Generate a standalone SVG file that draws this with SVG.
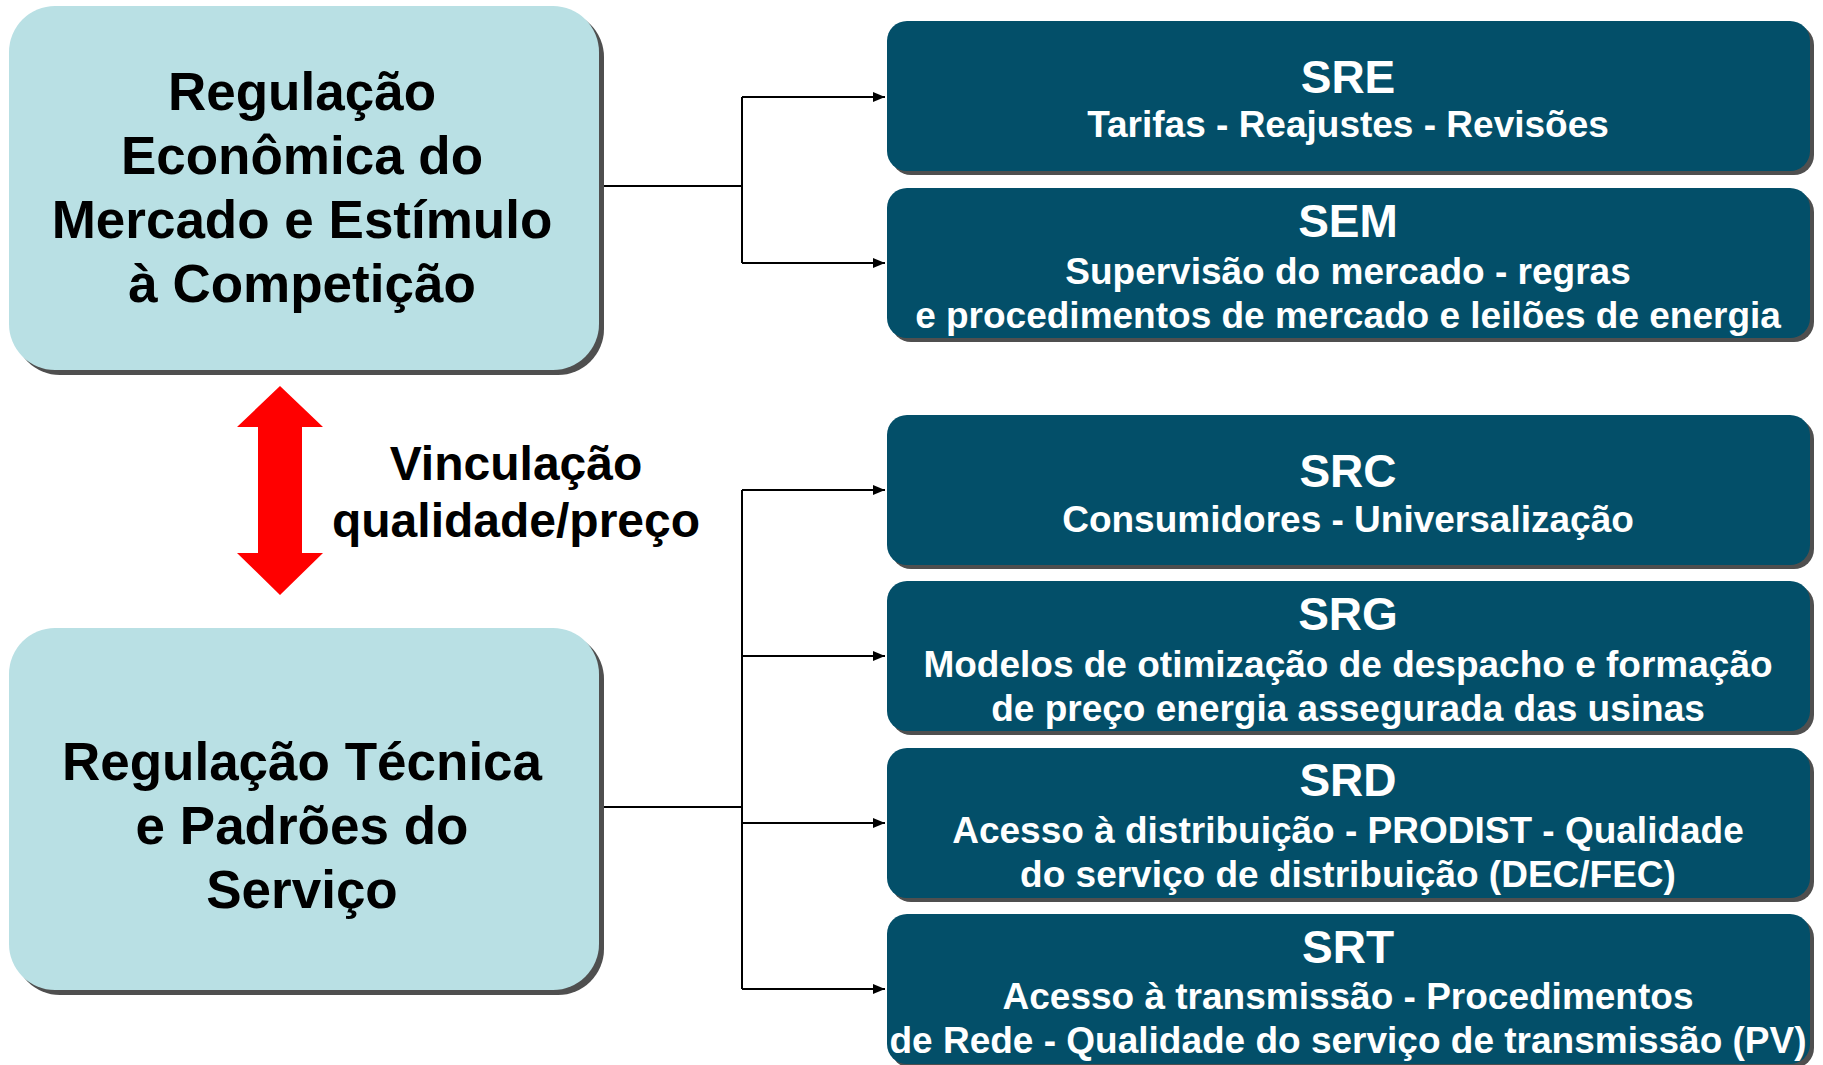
<svg xmlns="http://www.w3.org/2000/svg" width="1823" height="1065" viewBox="0 0 1823 1065">
<style>
.light{fill:#b9e0e4}
.dark{fill:#034f69}
.shadow{fill:#4f4f4f}
.big{font-family:"Liberation Sans",Arial,sans-serif;font-weight:bold;font-size:53px;fill:#000;text-anchor:middle}
.mid{font-family:"Liberation Sans",Arial,sans-serif;font-weight:bold;font-size:48px;fill:#000;text-anchor:middle}
.title{font-family:"Liberation Sans",Arial,sans-serif;font-weight:bold;font-size:46px;fill:#fff;text-anchor:middle}
.sub{font-family:"Liberation Sans",Arial,sans-serif;font-weight:bold;font-size:37px;fill:#fff;text-anchor:middle}
.conn{fill:none;stroke:#000;stroke-width:2}
</style>
<defs>
<marker id="arr" markerUnits="userSpaceOnUse" markerWidth="13" markerHeight="12" refX="12" refY="5" orient="auto">
<path d="M0,0 L12,5 L0,10 z" fill="#000"/>
</marker>
</defs>
<rect width="1823" height="1065" fill="#fff"/>

<g id="connectors">
<path class="conn" d="M599,186 H742 M742,97 V263 M742,97 H885" marker-end="url(#arr)"/>
<path class="conn" d="M742,263 H885" marker-end="url(#arr)"/>
<path class="conn" d="M599,807 H742 M742,490 V989"/>
<path class="conn" d="M742,490 H885" marker-end="url(#arr)"/>
<path class="conn" d="M742,656 H885" marker-end="url(#arr)"/>
<path class="conn" d="M742,823 H885" marker-end="url(#arr)"/>
<path class="conn" d="M742,989 H885" marker-end="url(#arr)"/>
</g>

<g id="econ">
<rect class="shadow" x="14" y="11" width="590" height="364" rx="46"/>
<rect class="light" x="9" y="6" width="590" height="364" rx="46"/>
<text class="big" x="302" y="110">Regulação</text>
<text class="big" x="302" y="174">Econômica do</text>
<text class="big" x="302" y="238">Mercado e Estímulo</text>
<text class="big" x="302" y="302">à Competição</text>
</g>

<g id="tecnica">
<rect class="shadow" x="14" y="633" width="590" height="362" rx="46"/>
<rect class="light" x="9" y="628" width="590" height="362" rx="46"/>
<text class="big" x="302" y="780">Regulação Técnica</text>
<text class="big" x="302" y="844">e Padrões do</text>
<text class="big" x="302" y="908">Serviço</text>
</g>

<g id="vinculo">
<polygon fill="#ff0000" points="280,386 323,427 302,427 302,553 323,553 280,595 237,553 258,553 258,427 237,427"/>
<text class="mid" x="516" y="480">Vinculação</text>
<text class="mid" x="516" y="537">qualidade/preço</text>
</g>

<g id="sre">
<rect class="shadow" x="891" y="25" width="923" height="150" rx="20"/>
<rect class="dark" x="887" y="21" width="923" height="150" rx="20"/>
<text class="title" x="1348" y="93">SRE</text>
<text class="sub" x="1348" y="137">Tarifas - Reajustes - Revisões</text>
</g>

<g id="sem">
<rect class="shadow" x="891" y="192" width="923" height="150" rx="20"/>
<rect class="dark" x="887" y="188" width="923" height="150" rx="20"/>
<text class="title" x="1348" y="237">SEM</text>
<text class="sub" x="1348" y="284">Supervisão do mercado - regras</text>
<text class="sub" x="1348" y="328">e procedimentos de mercado e leilões de energia</text>
</g>

<g id="src">
<rect class="shadow" x="891" y="419" width="923" height="150" rx="20"/>
<rect class="dark" x="887" y="415" width="923" height="150" rx="20"/>
<text class="title" x="1348" y="487">SRC</text>
<text class="sub" x="1348" y="532">Consumidores - Universalização</text>
</g>

<g id="srg">
<rect class="shadow" x="891" y="585" width="923" height="150" rx="20"/>
<rect class="dark" x="887" y="581" width="923" height="150" rx="20"/>
<text class="title" x="1348" y="630">SRG</text>
<text class="sub" x="1348" y="677">Modelos de otimização de despacho e formação</text>
<text class="sub" x="1348" y="721">de preço energia assegurada das usinas</text>
</g>

<g id="srd">
<rect class="shadow" x="891" y="752" width="923" height="150" rx="20"/>
<rect class="dark" x="887" y="748" width="923" height="150" rx="20"/>
<text class="title" x="1348" y="796">SRD</text>
<text class="sub" x="1348" y="843">Acesso à distribuição - PRODIST - Qualidade</text>
<text class="sub" x="1348" y="887">do serviço de distribuição (DEC/FEC)</text>
</g>

<g id="srt">
<rect class="shadow" x="891" y="918" width="923" height="150" rx="20"/>
<rect class="dark" x="887" y="914" width="923" height="150" rx="20"/>
<text class="title" x="1348" y="963">SRT</text>
<text class="sub" x="1348" y="1009">Acesso à transmissão - Procedimentos</text>
<text class="sub" x="1348" y="1053">de Rede - Qualidade do serviço de transmissão (PV)</text>
</g>
</svg>
